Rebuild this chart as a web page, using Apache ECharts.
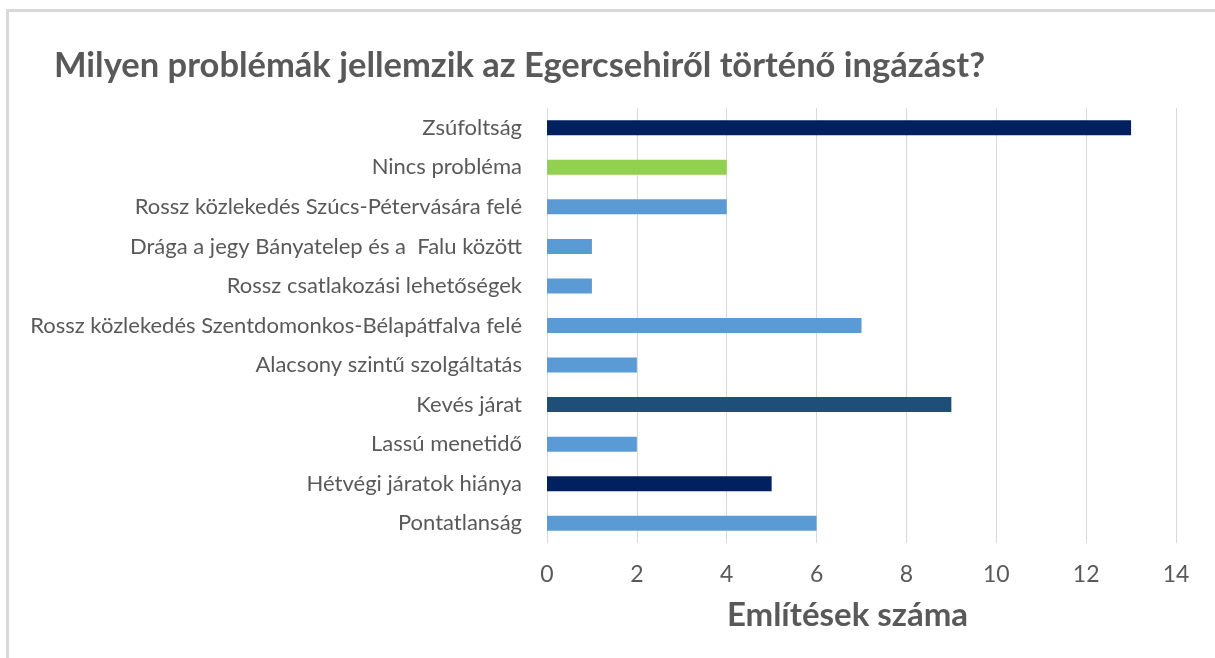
<!DOCTYPE html>
<html><head><meta charset="utf-8">
<script src="https://cdn.jsdelivr.net/npm/echarts@6/dist/echarts.min.js"></script>
<style>
html,body{margin:0;padding:0;background:#fff;overflow:hidden}
#frame{position:absolute;left:6px;top:9px;width:1300px;height:800px;border-top:3px solid #d9d9d9;border-left:3px solid #d9d9d9;box-sizing:border-box}
#c{position:absolute;left:0;top:0;width:1215px;height:658px}
</style></head>
<body>
<div id="frame"></div>
<div id="c"></div>
<script>
const categories = ["Zsúfoltság","Nincs probléma","Rossz közlekedés Szúcs-Pétervására felé","Drága a jegy Bányatelep és a  Falu között","Rossz csatlakozási lehetőségek","Rossz közlekedés Szentdomonkos-Bélapátfalva felé","Alacsony szintű szolgáltatás","Kevés járat","Lassú menetidő","Hétvégi járatok hiánya","Pontatlanság"];
const values = [13,4,4,1,1,7,2,9,2,5,6];
const barColors = ["#002060","#92D050","#5B9BD5","#5B9BD5","#5B9BD5","#5B9BD5","#5B9BD5","#1F4E79","#5B9BD5","#002060","#5B9BD5"];
const xTicks = [0,2,4,6,8,10,12,14];
const titleText = "Milyen problémák jellemzik az Egercsehiről történő ingázást?";
const xAxisName = "Említések száma";

const font = "Lato, 'Open Sans', sans-serif";
const chart = echarts.init(document.getElementById('c'));
chart.setOption({
  animation:false,
  backgroundColor:'transparent',
  title:{text:titleText,left:49,top:43,textStyle:{fontFamily:font,fontSize:34.5,fontWeight:'bold',color:'#595959'}},
  grid:{left:547,right:39,top:108,bottom:115,containLabel:false},
  xAxis:{type:'value',min:xTicks[0],max:xTicks[xTicks.length-1],interval:2,
    axisLine:{show:false},axisTick:{show:false},
    splitLine:{lineStyle:{color:'#d9d9d9',width:1}},
    axisLabel:{margin:20,fontFamily:font,fontSize:23,color:'#595959'},
    name:xAxisName,nameLocation:'middle',nameGap:56,
    nameTextStyle:{fontFamily:font,fontSize:33,fontWeight:'bold',color:'#595959',padding:[0,28,0,0]}},
  yAxis:{type:'category',data:categories,inverse:true,
    axisLine:{show:false},axisTick:{show:false},
    axisLabel:{margin:25,fontFamily:font,fontSize:22,color:'#595959'}},
  series:[{type:'bar',barWidth:15,
    data:values.map((v,i)=>({value:v,itemStyle:{color:barColors[i]}}))}]
});
</script>
</body></html>
